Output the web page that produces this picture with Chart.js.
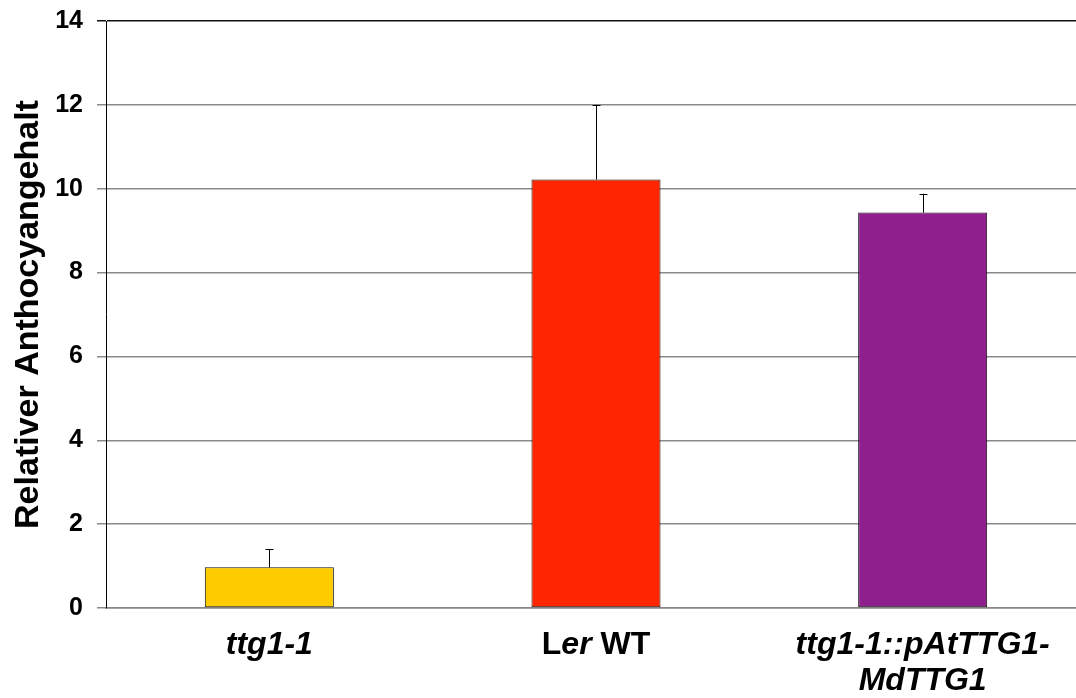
<!DOCTYPE html>
<html>
<head>
<meta charset="utf-8">
<script src="https://cdn.jsdelivr.net/npm/chart.js@4"></script>
<style>
  html, body { margin: 0; padding: 0; background: #fff; overflow: hidden; }
  #wrap { width: 1086px; height: 698px; position: relative; }
</style>
</head>
<body>
<div id="wrap"><canvas id="c"></canvas></div>
<script>
// Relative anthocyanin content per line, with upper standard deviation
const categories = ['ttg1-1', 'Ler WT', 'ttg1-1::pAtTTG1-MdTTG1'];
const values = [0.97, 10.22, 9.43];
const errors = [0.43, 1.78, 0.45];
const barColors = ['#ffcc00', '#ff2600', '#8e1f8c'];
const yTicks = [0, 2, 4, 6, 8, 10, 12, 14];

// Axis labels with mixed upright / italic runs, one array of lines per category
const labelRuns = [
  [[['ttg1-1', true]]],
  [[['L', false], ['er', true], [' WT', false]]],
  [[['ttg1-1::pAtTTG1-', true]], [['MdTTG1', true]]]
];

const FONT = '"Liberation Sans", Arial, sans-serif';

const errorBars = {
  id: 'errorBars',
  afterDatasetsDraw(chart) {
    const ctx = chart.ctx;
    const meta = chart.getDatasetMeta(0);
    const y = chart.scales.y;
    ctx.save();
    ctx.strokeStyle = '#000';
    ctx.lineWidth = 1;
    meta.data.forEach((bar, i) => {
      const x = Math.round(bar.x) + 0.5;
      const yTop = y.getPixelForValue(values[i] + errors[i]);
      const yBase = y.getPixelForValue(values[i]);
      ctx.beginPath();
      ctx.moveTo(x, yBase);
      ctx.lineTo(x, yTop);
      ctx.moveTo(x - 4, Math.round(yTop) + 0.5);
      ctx.lineTo(x + 4, Math.round(yTop) + 0.5);
      ctx.stroke();
    });
    ctx.restore();
  }
};

const categoryLabels = {
  id: 'categoryLabels',
  afterDraw(chart) {
    const ctx = chart.ctx;
    const xs = chart.scales.x;
    const baseY = chart.chartArea.bottom + 46;
    const lineGap = 36;
    ctx.save();
    ctx.fillStyle = '#000';
    ctx.textBaseline = 'alphabetic';
    ctx.textAlign = 'left';
    labelRuns.forEach((lines, i) => {
      const cx = xs.getPixelForTick(i);
      lines.forEach((runs, li) => {
        let total = 0;
        runs.forEach(([t, it]) => {
          ctx.font = (it ? 'italic ' : '') + 'bold 32px ' + FONT;
          total += ctx.measureText(t).width;
        });
        let x = cx - total / 2;
        runs.forEach(([t, it]) => {
          ctx.font = (it ? 'italic ' : '') + 'bold 32px ' + FONT;
          ctx.fillText(t, x, baseY + li * lineGap);
          x += ctx.measureText(t).width;
        });
      });
    });
    ctx.restore();
  }
};

new Chart(document.getElementById('c'), {
  type: 'bar',
  data: {
    labels: categories,
    datasets: [{
      data: values,
      backgroundColor: barColors,
      borderColor: '#111',
      borderWidth: 1,
      borderSkipped: false,
      barPercentage: 0.395,
      categoryPercentage: 1
    }]
  },
  options: {
    responsive: true,
    maintainAspectRatio: false,
    animation: false,
    devicePixelRatio: 1,
    layout: { padding: { top: 21, left: 0, right: 0, bottom: 0 } },
    plugins: { legend: { display: false }, tooltip: { enabled: false } },
    scales: {
      x: {
        grid: { display: false },
        border: { color: '#888', width: 1.5 },
        ticks: { display: false },
        afterFit(scale) { scale.height = 90; }
      },
      y: {
        min: 0,
        max: 14,
        afterBuildTicks(scale) { scale.ticks = yTicks.map(v => ({ value: v })); },
        afterFit(scale) {
          scale.width = 106;
          scale.paddingTop = 0;
          scale.paddingBottom = 0;
        },
        border: { color: '#000', width: 1 },
        grid: {
          color: c => (c.tick && c.tick.value === 14 ? '#111' : '#8a8a8a'),
          lineWidth: 1.5,
          tickLength: 9
        },
        ticks: {
          padding: 14,
          color: '#000',
          font: { family: FONT, size: 25, weight: 'bold' }
        },
        title: {
          display: true,
          text: 'Relativer Anthocyangehalt',
          color: '#000',
          font: { family: FONT, size: 34, weight: 'bold' },
          padding: { top: 8, bottom: 0 }
        }
      }
    }
  },
  plugins: [errorBars, categoryLabels]
});
</script>
</body>
</html>
